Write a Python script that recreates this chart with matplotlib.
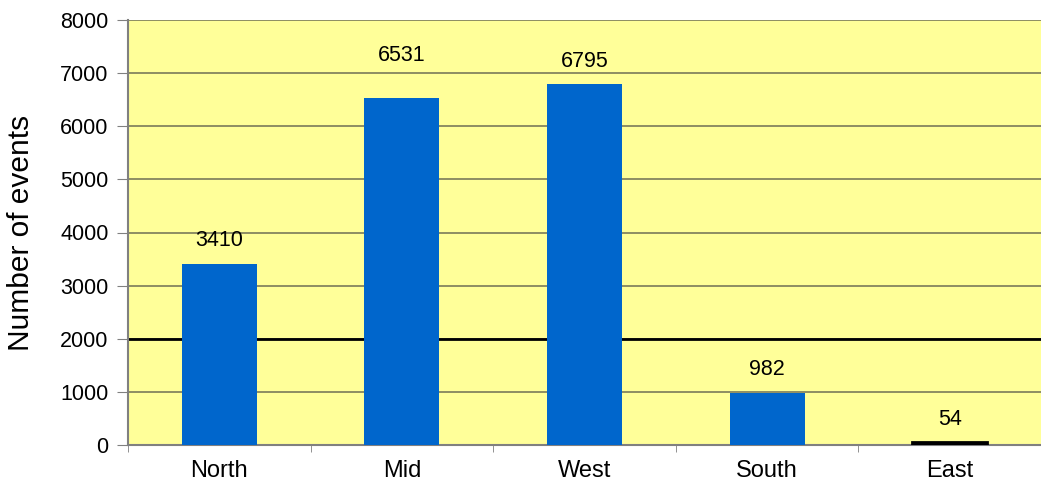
import numpy as np
import matplotlib
matplotlib.use("Agg")
import matplotlib.pyplot as plt

regions = ["North", "Mid", "West", "South", "East"]
events = [3410, 6531, 6795, 982, 54]
bar_colors = ["#0066CC", "#0066CC", "#0066CC", "#0066CC", "#000000"]
yticks = [0, 1000, 2000, 3000, 4000, 5000, 6000, 7000, 8000]
threshold = 2000

plt.rcParams["font.family"] = ["Liberation Sans", "DejaVu Sans"]

fig = plt.figure(figsize=(10.41, 4.91), dpi=100)
ax = fig.add_axes([128 / 1041, 46 / 491, 913 / 1041, 425 / 491])
ax.set_facecolor("#FFFF99")

x = np.arange(len(regions))
ax.bar(x, events, width=0.41, color=bar_colors, edgecolor=bar_colors,
       linewidth=[0, 0, 0, 0, 2], zorder=3)

# labels above the bars (Mid label sits a bit higher in the original)
extra = [0, 14, 0, 0, 0]
for xi, v, e in zip(x, events, extra):
    ax.annotate(str(v), (xi, v), xytext=(0, 9 + e), textcoords="offset points",
                ha="center", va="bottom", fontsize=15.5, zorder=4)

ax.axhline(threshold, color="black", lw=2, zorder=2)

ax.set_xlim(-0.5, len(regions) - 0.5)
ax.set_ylim(0, 8000)
ax.set_yticks(yticks)
ax.yaxis.grid(True, color="#7a7a5a", lw=1.2, zorder=1)
ax.set_axisbelow(True)

ax.set_xticks(x)
ax.set_xticklabels(regions, fontsize=17)
ax.tick_params(axis="x", length=0, pad=11)
ax.set_xticks(np.arange(len(regions) + 1) - 0.5, minor=True)
ax.tick_params(axis="x", which="minor", length=5, color="#808080")
ax.tick_params(axis="y", labelsize=15.5, length=8, color="#808080", pad=6)

ax.set_ylabel("Number of events", fontsize=21.5, labelpad=18)

for s in ["top", "right"]:
    ax.spines[s].set_visible(False)
ax.spines["left"].set_color("#808080")
ax.spines["left"].set_linewidth(1.5)
ax.spines["bottom"].set_color("#808080")
ax.spines["bottom"].set_linewidth(1.5)

fig.savefig("out.png", dpi=100)
